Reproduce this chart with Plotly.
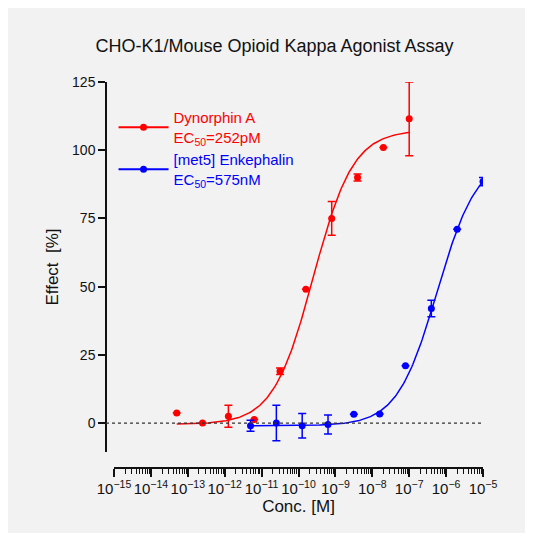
import numpy as np
import plotly.graph_objects as go

# Dynorphin A (log10 M), 5-fold dilutions
dyn_logx = [-13.3, -12.6, -11.9, -11.2, -10.5, -9.8, -9.1, -8.4, -7.7, -7.0]
dyn_y = [3.7, 0.0, 2.5, 1.3, 19.0, 49.0, 75.0, 90.0, 101.0, 111.5]
dyn_err = [0, 0, 4.0, 0, 1.2, 0, 6.2, 1.3, 0, 13.5]

# [met5] Enkephalin
enk_logx = [-11.3, -10.6, -9.9, -9.2, -8.5, -7.8, -7.1, -6.4, -5.7, -5.0]
enk_y = [-1.0, 0.0, -1.0, -0.5, 3.2, 3.3, 21.0, 42.0, 71.0, 88.5]
enk_err = [2.0, 6.5, 4.5, 3.5, 0, 0, 0, 3.0, 0, 1.5]

# fitted 4PL parameters (bottom, top, logEC50, hill)
dyn_fit = (-0.5, 107.4, -9.6, 0.8)
enk_fit = (-1.0, 97.6, -6.24, 0.8)

RED = "#ff0000"
BLUE = "#0000ff"


def curve(fit, x0, x1):
    b, t, ec, h = fit
    lx = np.linspace(x0, x1, 200)
    return 10 ** lx, b + (t - b) / (1 + 10 ** ((ec - lx) * h))


fig = go.Figure()

for logx, y, err, fit, col, name in [
    (dyn_logx, dyn_y, dyn_err, dyn_fit, RED, "Dynorphin A<br>EC<sub>50</sub>=252pM"),
    (enk_logx, enk_y, enk_err, enk_fit, BLUE, "[met5] Enkephalin<br>EC<sub>50</sub>=575nM"),
]:
    cx, cy = curve(fit, min(logx), max(logx))
    fig.add_trace(go.Scatter(x=cx, y=cy, mode="lines", line=dict(color=col, width=1.5),
                             showlegend=False, hoverinfo="skip"))
    fig.add_trace(go.Scatter(
        x=[10 ** v for v in logx], y=y, mode="markers",
        marker=dict(color=col, size=7),
        error_y=dict(type="data", array=err, color=col, thickness=1.5, width=4),
        showlegend=False,
    ))
    # legend entry: line through marker
    fig.add_trace(go.Scatter(
        x=[None], y=[None], mode="lines+markers",
        line=dict(color=col, width=2), marker=dict(color=col, size=7),
        name="<span style='color:%s'>%s</span>" % (col, name),
    ))

fig.add_shape(type="line", xref="paper", yref="y", x0=0, x1=1, y0=0, y1=0,
              line=dict(color="#333", width=1.2, dash="dot"))

fig.update_layout(
    width=533, height=533,
    paper_bgcolor="#f2f2f2", plot_bgcolor="#f2f2f2",
    margin=dict(l=98, r=58, t=74, b=73),
    font=dict(family="Liberation Sans, Arial", size=14, color="#111"),
    title=dict(text="CHO-K1/Mouse Opioid Kappa Agonist Assay", x=0.5, y=0.93,
               xanchor="center", yanchor="middle", font=dict(size=18, color="#111")),
    legend=dict(x=0.02, y=0.95, xanchor="left", yanchor="top", bgcolor="rgba(0,0,0,0)",
                font=dict(size=15), itemwidth=50, tracegroupgap=14),
    xaxis=dict(type="log", range=[-15, -5], dtick=1, exponentformat="power",
               domain=[8 / 377, 1], anchor="free", position=0, tickangle=0,
               showline=True, linecolor="#111", linewidth=1.5, showgrid=False, zeroline=False,
               ticks="outside", ticklen=8, tickwidth=1.5, tickcolor="#111",
               minor=dict(ticks="outside", ticklen=5, tickwidth=1, tickcolor="#111", showgrid=False),
               title=dict(text="Conc. [M]", standoff=0), tickfont=dict(size=12)),
    yaxis=dict(range=[-10.6, 125], tickvals=[0, 25, 50, 75, 100, 125],
               domain=[16 / 386, 1], anchor="free", position=0,
               showline=True, linecolor="#111", linewidth=1.5, showgrid=False, zeroline=False,
               ticks="outside", ticklen=7, tickwidth=1.5, tickcolor="#111",
               title=dict(text="Effect  [%]", standoff=8), tickfont=dict(size=14)),
)

fig.write_html("out.html")
